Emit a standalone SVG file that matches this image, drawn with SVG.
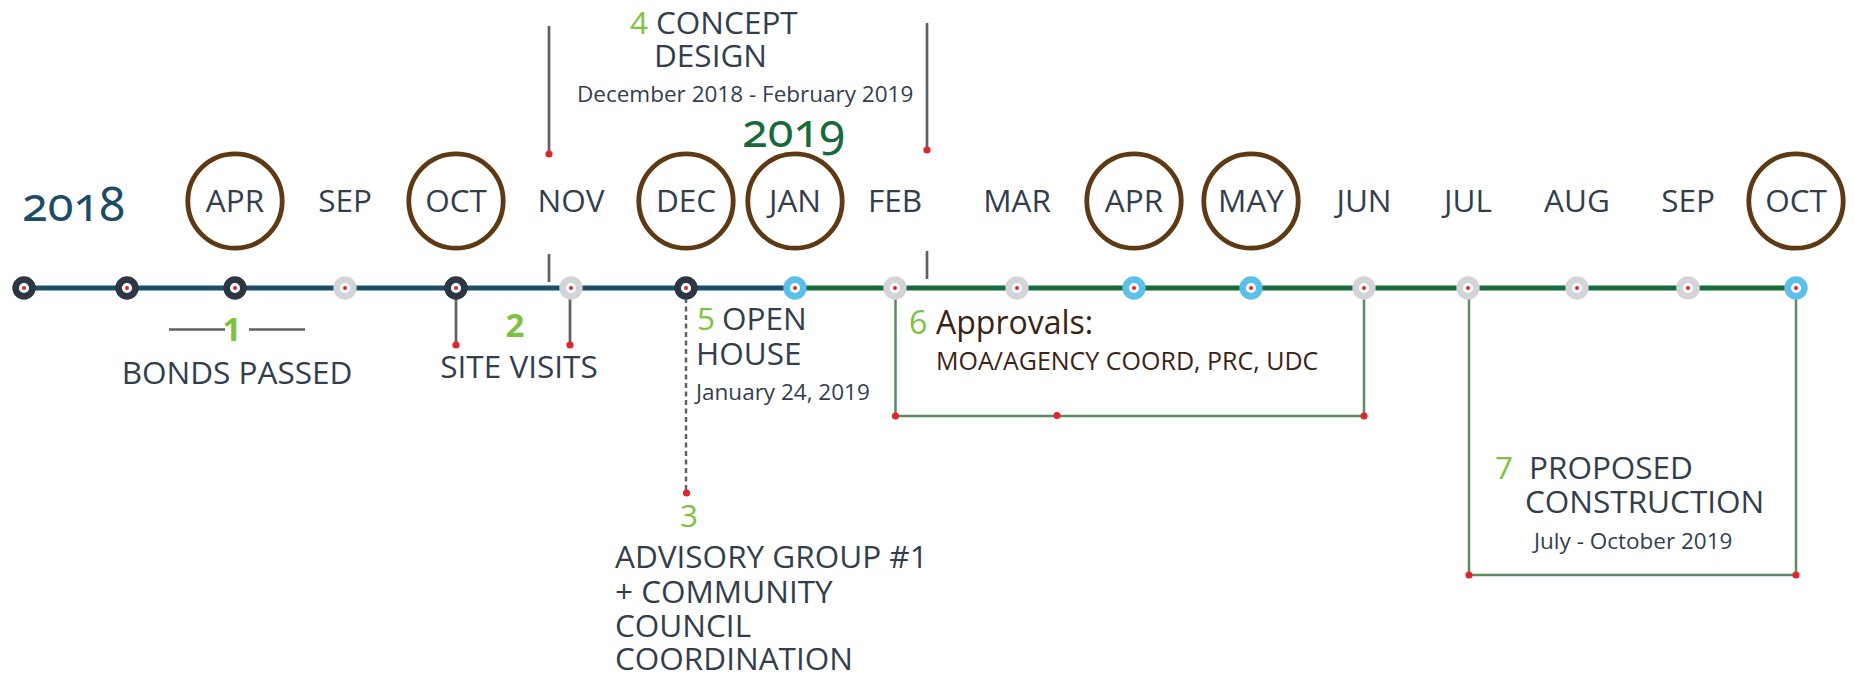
<svg xmlns="http://www.w3.org/2000/svg" width="1854" height="676" viewBox="0 0 1854 676">
<style>
text{font-family:"Open Sans","Noto Sans","Liberation Sans",sans-serif;fill:#333e4d}
.m{font-size:31.5px;text-anchor:middle}
.h{font-size:31.5px}
.s{font-size:22.5px}
.g{fill:#7dc242}
.gb{fill:#7dc242;font-weight:700;font-size:33px;text-anchor:middle}
.br{fill:#3b2314}
.yr{font-family:"Noto Sans","Open Sans",sans-serif;font-size:47px;font-variant-numeric:oldstyle-nums;font-feature-settings:"onum" 1}
.circ{fill:none;stroke:#5e3a14;stroke-width:4.8}
.conn{stroke:#5c6169;stroke-width:2.7;fill:none}
.dash{stroke:#5c6169;stroke-width:2.5;fill:none;stroke-dasharray:5 3.5}
.box{stroke:#5b8b63;stroke-width:2.5;fill:none}
.dot{fill:#e0262a}
.nd{fill:#fff;stroke-width:6.6}
.dk{stroke:#2d3744}
.gr{stroke:#d3d3d8}
.bl{stroke:#5bc0eb}
</style>

<g id="connectors">
  <line x1="24" y1="288" x2="795" y2="288" stroke="#1b4d68" stroke-width="5"/>
  <line x1="795" y1="288" x2="1796" y2="288" stroke="#176b3a" stroke-width="5"/>
  <line class="conn" x1="549" y1="26" x2="549" y2="153"/>
  <circle class="dot" cx="549" cy="154" r="3.6"/>
  <line class="conn" x1="549" y1="254" x2="549" y2="282"/>
  <line class="conn" x1="927" y1="23" x2="927" y2="150"/>
  <circle class="dot" cx="927" cy="150" r="3.6"/>
  <line class="conn" x1="927" y1="251" x2="927" y2="279"/>
  <line class="conn" x1="456" y1="288" x2="456" y2="345"/>
  <circle class="dot" cx="456" cy="345" r="3.6"/>
  <line class="conn" x1="570" y1="288" x2="570" y2="345"/>
  <circle class="dot" cx="570" cy="345" r="3.6"/>
  <line class="conn" x1="169" y1="329.5" x2="225" y2="329.5"/>
  <line class="conn" x1="249" y1="329.5" x2="305" y2="329.5"/>
  <line class="dash" x1="686" y1="298" x2="686" y2="490"/>
  <circle class="dot" cx="686.5" cy="493" r="3.6"/>
  <path class="box" d="M895.5 288V416H1364V288"/>
  <circle class="dot" cx="895.5" cy="416" r="3.6"/>
  <circle class="dot" cx="1057" cy="415.5" r="3.6"/>
  <circle class="dot" cx="1364" cy="416" r="3.6"/>
  <path class="box" d="M1469 288V575H1796V288"/>
  <circle class="dot" cx="1469" cy="575" r="3.6"/>
  <circle class="dot" cx="1796" cy="575" r="3.6"/>
</g>

<g id="years">
  <text class="yr" x="22" y="221" style="fill:#1b4d68">2018</text>
  <text class="yr" x="742" y="147" style="fill:#176b3a;font-size:47px">2019</text>
</g>

<g id="months">
  <g id="m-apr18"><circle class="circ" cx="235" cy="201" r="47.2"/><text class="m" x="235" y="212">APR</text></g>
  <g id="m-sep18"><text class="m" x="345" y="212">SEP</text></g>
  <g id="m-oct18"><circle class="circ" cx="456" cy="201" r="47.2"/><text class="m" x="456" y="212">OCT</text></g>
  <g id="m-nov18"><text class="m" x="571" y="212">NOV</text></g>
  <g id="m-dec18"><circle class="circ" cx="686" cy="201" r="47.2"/><text class="m" x="686" y="212">DEC</text></g>
  <g id="m-jan19"><circle class="circ" cx="795" cy="201" r="47.2"/><text class="m" x="795" y="212">JAN</text></g>
  <g id="m-feb19"><text class="m" x="895" y="212">FEB</text></g>
  <g id="m-mar19"><text class="m" x="1017" y="212">MAR</text></g>
  <g id="m-apr19"><circle class="circ" cx="1134" cy="201" r="47.2"/><text class="m" x="1134" y="212">APR</text></g>
  <g id="m-may19"><circle class="circ" cx="1251" cy="201" r="47.2"/><text class="m" x="1251" y="212">MAY</text></g>
  <g id="m-jun19"><text class="m" x="1364" y="212">JUN</text></g>
  <g id="m-jul19"><text class="m" x="1468" y="212">JUL</text></g>
  <g id="m-aug19"><text class="m" x="1577" y="212">AUG</text></g>
  <g id="m-sep19"><text class="m" x="1688" y="212">SEP</text></g>
  <g id="m-oct19"><circle class="circ" cx="1796" cy="201" r="47.2"/><text class="m" x="1796" y="212">OCT</text></g>
</g>

<g id="nodes">
  <g id="n1"><circle class="nd dk" cx="24" cy="288" r="8.4"/><circle class="dot" cx="24" cy="288" r="2"/></g>
  <g id="n2"><circle class="nd dk" cx="127" cy="288" r="8.4"/><circle class="dot" cx="127" cy="288" r="2"/></g>
  <g id="n3"><circle class="nd dk" cx="235" cy="288" r="8.4"/><circle class="dot" cx="235" cy="288" r="2"/></g>
  <g id="n4"><circle class="nd gr" cx="345" cy="288" r="8.4"/><circle class="dot" cx="345" cy="288" r="2"/></g>
  <g id="n5"><circle class="nd dk" cx="456" cy="288" r="8.4"/><circle class="dot" cx="456" cy="288" r="2"/></g>
  <g id="n6"><circle class="nd gr" cx="571" cy="288" r="8.4"/><circle class="dot" cx="571" cy="288" r="2"/></g>
  <g id="n7"><circle class="nd dk" cx="686" cy="288" r="8.4"/><circle class="dot" cx="686" cy="288" r="2"/></g>
  <g id="n8"><circle class="nd bl" cx="795" cy="288" r="8.4"/><circle class="dot" cx="795" cy="288" r="2"/></g>
  <g id="n9"><circle class="nd gr" cx="895" cy="288" r="8.4"/><circle class="dot" cx="895" cy="288" r="2"/></g>
  <g id="n10"><circle class="nd gr" cx="1017" cy="288" r="8.4"/><circle class="dot" cx="1017" cy="288" r="2"/></g>
  <g id="n11"><circle class="nd bl" cx="1134" cy="288" r="8.4"/><circle class="dot" cx="1134" cy="288" r="2"/></g>
  <g id="n12"><circle class="nd bl" cx="1251" cy="288" r="8.4"/><circle class="dot" cx="1251" cy="288" r="2"/></g>
  <g id="n13"><circle class="nd gr" cx="1364" cy="288" r="8.4"/><circle class="dot" cx="1364" cy="288" r="2"/></g>
  <g id="n14"><circle class="nd gr" cx="1468" cy="288" r="8.4"/><circle class="dot" cx="1468" cy="288" r="2"/></g>
  <g id="n15"><circle class="nd gr" cx="1577" cy="288" r="8.4"/><circle class="dot" cx="1577" cy="288" r="2"/></g>
  <g id="n16"><circle class="nd gr" cx="1688" cy="288" r="8.4"/><circle class="dot" cx="1688" cy="288" r="2"/></g>
  <g id="n17"><circle class="nd bl" cx="1796" cy="288" r="8.4"/><circle class="dot" cx="1796" cy="288" r="2"/></g>
</g>

<g id="label-1">
  <text class="gb" x="232" y="341">1</text>
  <text class="m" x="237" y="384">BONDS PASSED</text>
</g>
<g id="label-2">
  <text class="gb" x="515" y="337">2</text>
  <text class="m" x="519" y="378">SITE VISITS</text>
</g>
<g id="label-3">
  <text class="h g" x="680" y="527">3</text>
  <text class="h" x="615" y="568">ADVISORY GROUP #1</text>
  <text class="h" x="615" y="603">+ COMMUNITY</text>
  <text class="h" x="615" y="637">COUNCIL</text>
  <text class="h" x="615" y="670">COORDINATION</text>
</g>
<g id="label-4">
  <text class="h g" x="630" y="33.5">4</text>
  <text class="h" x="656" y="33.5">CONCEPT</text>
  <text class="h" x="654" y="67">DESIGN</text>
  <text class="s" x="577" y="101.5">December 2018 - February 2019</text>
</g>
<g id="label-5">
  <text class="h g" x="697" y="330">5</text>
  <text class="h" x="722" y="330">OPEN</text>
  <text class="h" x="696" y="365">HOUSE</text>
  <text class="s" x="696" y="400">January 24, 2019</text>
</g>
<g id="label-6">
  <text class="h g" x="909" y="334" style="font-size:32px">6</text>
  <text class="h br" x="936" y="334" style="font-size:32px">Approvals:</text>
  <text class="br" x="936" y="370" style="font-size:25px">MOA/AGENCY COORD, PRC, UDC</text>
</g>
<g id="label-7">
  <text class="h g" x="1495" y="479">7</text>
  <text class="h" x="1529" y="479">PROPOSED</text>
  <text class="h" x="1525" y="512.5">CONSTRUCTION</text>
  <text class="s" x="1534" y="549">July - October 2019</text>
</g>
</svg>
